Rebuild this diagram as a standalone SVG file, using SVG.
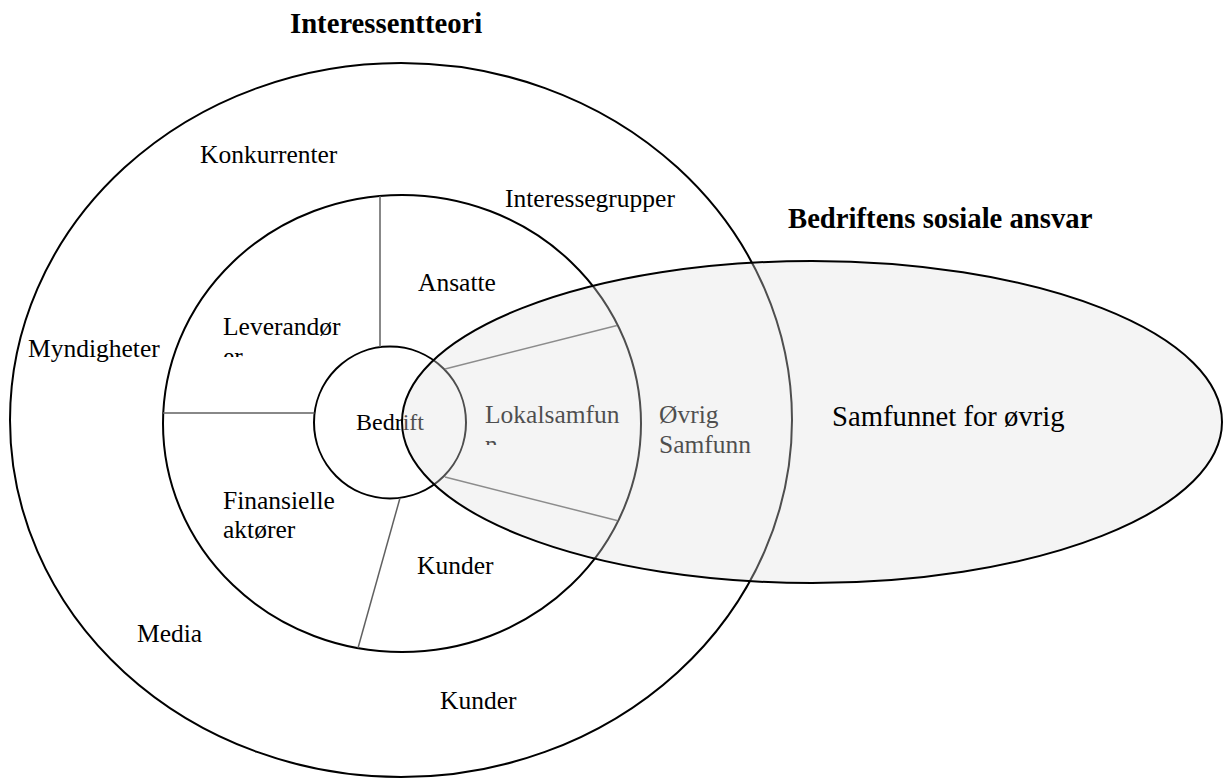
<svg xmlns="http://www.w3.org/2000/svg" width="1226" height="778" viewBox="0 0 1226 778">
<style>
.t{font-family:"Liberation Serif","Times New Roman",serif;font-size:25.5px;fill:#000}
.b{font-family:"Liberation Serif","Times New Roman",serif;font-size:28.7px;font-weight:bold;fill:#000}
.ring{fill:none;stroke:#000;stroke-width:2}
.div{stroke:#606060;stroke-width:1.5;fill:none}
</style>
<defs>
<clipPath id="clipLev"><rect x="200" y="300" width="200" height="57"/></clipPath>
<clipPath id="clipLok"><rect x="470" y="390" width="170" height="55"/></clipPath>
</defs>
<rect width="1226" height="778" fill="#fff"/>
<g id="outer"><ellipse class="ring" cx="401" cy="420" rx="391" ry="357"/></g>
<g id="middle"><ellipse class="ring" cx="402" cy="423.5" rx="239" ry="228.5"/></g>
<g id="bedrift"><circle class="ring" cx="390" cy="422.5" r="76"/></g>
<g id="connectors">
<line class="div" x1="380" y1="196" x2="380" y2="347"/>
<line class="div" x1="163" y1="413" x2="314.5" y2="413"/>
<line class="div" x1="400" y1="498" x2="358" y2="648"/>
<line class="div" x1="445" y1="369" x2="617" y2="325.5"/>
<line class="div" x1="445" y1="477" x2="617" y2="520.5"/>
</g>
<g id="labels">
<text class="b" x="290" y="33">Interessentteori</text>
<text class="t" x="200" y="163">Konkurrenter</text>
<text class="t" x="505" y="207">Interessegrupper</text>
<text class="t" x="28" y="357">Myndigheter</text>
<g clip-path="url(#clipLev)"><text class="t" x="223" y="335">Leverandør<tspan x="223" dy="29.5">er</tspan></text></g>
<text class="t" x="418" y="291">Ansatte</text>
<text class="t" x="356" y="430" style="font-size:24px">Bedrift</text>
<g clip-path="url(#clipLok)"><text class="t" x="485" y="423">Lokalsamfun<tspan x="485" dy="30">n</tspan></text></g>
<text class="t" x="659" y="423">Øvrig</text>
<text class="t" x="659" y="453">Samfunn</text>
<text class="t" x="223" y="509">Finansielle</text>
<text class="t" x="223" y="538">aktører</text>
<text class="t" x="417" y="574">Kunder</text>
<text class="t" x="137" y="642">Media</text>
<text class="t" x="440" y="709">Kunder</text>
</g>
<g id="samfunnet">
<ellipse cx="812" cy="422" rx="410" ry="161" fill="#e0e0e0" fill-opacity="0.35" stroke="#000" stroke-width="2"/>
<text x="832" y="426" style="font-family:'Liberation Serif','Times New Roman',serif;font-size:28.7px;fill:#000">Samfunnet for øvrig</text>
</g>
<g id="csr"><text class="b" x="788" y="228">Bedriftens sosiale ansvar</text></g>
</svg>
